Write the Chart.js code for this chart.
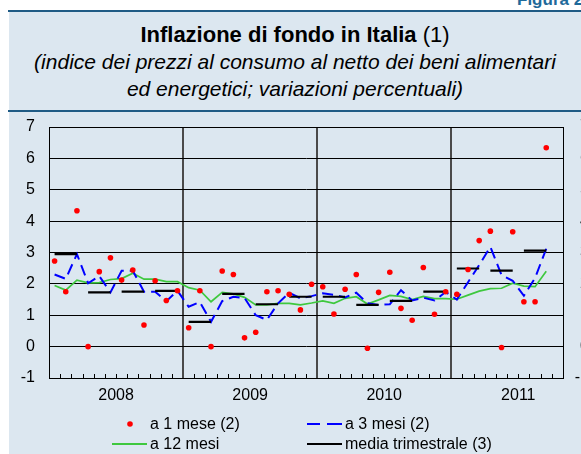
<!DOCTYPE html>
<html><head><meta charset="utf-8">
<script src="https://cdn.jsdelivr.net/npm/chart.js@4/dist/chart.umd.min.js"></script>
<style>
html,body{margin:0;padding:0;width:581px;height:454px;overflow:hidden;background:#fff;font-family:'Liberation Sans',Arial,sans-serif;}
#panel{position:absolute;left:9px;top:11px;width:572px;height:443px;background:#dce7f0;}
.rule{position:absolute;left:8px;width:573px;height:2px;background:#1f5b85;}
#fig{position:absolute;left:517px;top:-10px;font-weight:bold;font-size:17px;line-height:19px;color:#1f6a9a;white-space:nowrap;}
.t{position:absolute;left:9px;width:572px;text-align:center;white-space:nowrap;color:#000;}
#title{top:22px;font-size:22px;font-weight:bold;line-height:26px;}
#title span{font-weight:normal;}
.sub{font-size:21px;font-style:italic;line-height:24px;}
#wrap{position:absolute;left:0;top:0;width:600px;height:454px;}
.leg{position:absolute;font-size:16px;line-height:18px;white-space:nowrap;color:#000;}
svg.sym{position:absolute;left:0;top:0;}
</style></head>
<body>
<div id="fig">Figura 2</div>
<div id="panel"></div>
<div class="rule" style="top:10px"></div>
<div class="rule" style="top:110px"></div>
<div class="t" id="title">Inflazione di fondo in Italia <span>(1)</span></div>
<div class="t sub" style="top:50px">(indice dei prezzi al consumo al netto dei beni alimentari</div>
<div class="t sub" style="top:77px">ed energetici; variazioni percentuali)</div>
<div id="wrap"><canvas id="c" width="600" height="454"></canvas></div>
<svg class="sym" width="581" height="454">
  <circle cx="130" cy="424" r="2.8" fill="#ff0000"/>
  <line x1="307" y1="424" x2="320" y2="424" stroke="#0000ff" stroke-width="2"/>
  <line x1="327" y1="424" x2="342" y2="424" stroke="#0000ff" stroke-width="2"/>
  <line x1="112" y1="444" x2="147" y2="444" stroke="#3ec83e" stroke-width="2"/>
  <line x1="307" y1="444" x2="342" y2="444" stroke="#000" stroke-width="2"/>
</svg>
<div class="leg" style="left:150px;top:415px">a 1 mese (2)</div>
<div class="leg" style="left:345px;top:415px">a 3 mesi (2)</div>
<div class="leg" style="left:150px;top:435px">a 12 mesi</div>
<div class="leg" style="left:345px;top:435px">media trimestrale (3)</div>
<script>
// ---- data (monthly, Jan 2008 .. Sep 2011) ----
const years = ['2008', '2009', '2010', '2011'];
const yTicks = [-1, 0, 1, 2, 3, 4, 5, 6, 7];
const monthsOnAxis = 46; // Jan 2008 .. Oct 2011

const mese1 = [2.73, 1.75, 4.33, 0.00, 2.39, 2.83, 2.12, 2.44, 0.69, 2.10, 1.47, 1.78,
               0.60, 1.78, 0.00, 2.41, 2.30, 0.28, 0.46, 1.75, 1.78, 1.67, 1.17, 1.99,
               1.91, 1.04, 1.83, 2.30, -0.05, 1.73, 2.37, 1.22, 0.84, 2.52, 1.03, 1.75,
               1.67, 2.46, 3.38, 3.68, -0.03, 3.66, 1.43, 1.43, 6.34];

const mesi3 = [2.30, 2.16, 2.95, 2.02, 2.25, 1.73, 2.42, 2.42, 1.75, 1.75, 1.45, 1.78,
               1.27, 1.42, 0.79, 1.45, 1.59, 1.55, 1.00, 0.85, 1.38, 1.72, 1.54, 1.61,
               1.70, 1.65, 1.57, 1.72, 1.38, 1.33, 1.35, 1.80, 1.47, 1.56, 1.47, 1.74,
               1.50, 2.05, 2.60, 3.18, 2.28, 2.10, 1.62, 2.19, 3.12];

const mesi12 = [1.95, 1.80, 2.12, 2.03, 2.04, 2.14, 2.17, 2.34, 2.15, 2.15, 2.07, 2.07,
                1.88, 1.80, 1.43, 1.73, 1.68, 1.57, 1.33, 1.33, 1.38, 1.38, 1.33, 1.39,
                1.46, 1.38, 1.54, 1.59, 1.36, 1.49, 1.63, 1.60, 1.50, 1.60, 1.53, 1.53,
                1.51, 1.64, 1.77, 1.85, 1.86, 2.02, 1.93, 1.91, 2.40];

const mediaTrim = [2.95, 1.73, 1.75, 1.78, 0.79, 1.68, 1.35, 1.59,
                   1.59, 1.33, 1.46, 1.75, 2.49, 2.42, 3.06];

// ---- build library data ----
const pts = arr => arr.map((v, i) => ({x: i + 0.5, y: v}));
const mediaPts = [];
mediaTrim.forEach((v, q) => {
  mediaPts.push({x: 3 * q + 0.5, y: v}, {x: 3 * q + 2.5, y: v}, {x: 3 * q + 2.8, y: null});
});

const FONT = {family: "'Liberation Sans', Arial, sans-serif", size: 16};

const frame = {
  id: 'frame',
  afterDraw(chart) {
    const {ctx, chartArea: a, scales: {x}} = chart;
    ctx.save();
    ctx.strokeStyle = '#000';
    ctx.lineWidth = 1;
    ctx.beginPath();
    ctx.moveTo(a.left, Math.round(a.top) + 0.5);
    ctx.lineTo(a.right, Math.round(a.top) + 0.5);
    for (let m = 1; m < monthsOnAxis; m++) {
      if (m % 12 === 0) continue;
      const px = Math.round(x.getPixelForValue(m)) + 0.5;
      ctx.moveTo(px, a.bottom);
      ctx.lineTo(px, a.bottom - 4);
    }
    ctx.stroke();
    ctx.restore();
  }
};

new Chart(document.getElementById('c'), {
  type: 'line',
  data: {
    datasets: [
      {label: 'a 1 mese (2)', data: pts(mese1), showLine: false, pointRadius: 2.8,
       pointBackgroundColor: '#ff0000', pointBorderWidth: 0, order: 0},
      {label: 'media trimestrale (3)', data: mediaPts, borderColor: '#000', borderWidth: 2.2,
       pointRadius: 0, spanGaps: false, order: 1},
      {label: 'a 3 mesi (2)', data: pts(mesi3), borderColor: '#0000ff', borderWidth: 2,
       borderDash: [11, 6], pointRadius: 0, order: 2},
      {label: 'a 12 mesi', data: pts(mesi12), borderColor: '#3ec83e', borderWidth: 1.7,
       pointRadius: 0, order: 3}
    ]
  },
  options: {
    responsive: false, animation: false, devicePixelRatio: 1,
    layout: {padding: {top: 127, left: 0, right: 11, bottom: 0}},
    plugins: {legend: {display: false}, tooltip: {enabled: false}},
    elements: {line: {tension: 0}},
    scales: {
      x: {
        type: 'linear', min: 0, max: monthsOnAxis,
        afterFit(s) { s.height = 76; },
        afterBuildTicks(s) { s.ticks = Array.from({length: monthsOnAxis + 1}, (_, v) => ({value: v})); },
        ticks: {autoSkip: false, maxRotation: 0, padding: 8, font: FONT, color: '#000',
                callback: v => (v % 12 === 6 ? years[(v - 6) / 12] : '')},
        grid: {drawTicks: false, lineWidth: 2,
               color: c => (c.tick && [12, 24, 36].includes(c.tick.value)) ? '#4a4a4a' : 'rgba(0,0,0,0)'},
        border: {display: true, color: '#000', width: 1}
      },
      y: {
        min: -1, max: 7,
        afterFit(s) { s.width = 49; },
        afterBuildTicks(s) { s.ticks = yTicks.map(v => ({value: v})); },
        ticks: {padding: 14, font: FONT, color: '#000'},
        grid: {drawTicks: false, color: '#000', lineWidth: 1},
        border: {display: true, color: '#000', width: 1}
      },
      y2: {
        position: 'right', min: -1, max: 7,
        afterFit(s) { s.width = 26; },
        afterBuildTicks(s) { s.ticks = yTicks.map(v => ({value: v})); },
        ticks: {padding: 0, crossAlign: 'far', font: FONT, color: '#000'},
        grid: {display: false, drawTicks: false},
        border: {display: true, color: '#000', width: 1}
      }
    }
  },
  plugins: [frame]
});
</script>
</body></html>
